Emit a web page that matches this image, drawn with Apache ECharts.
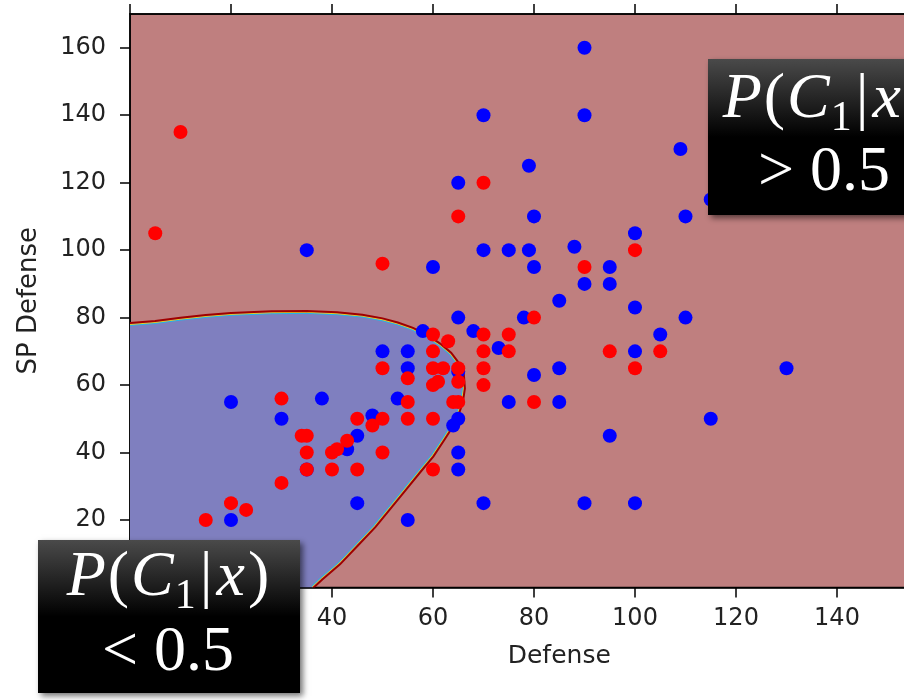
<!DOCTYPE html>
<html><head><meta charset="utf-8">
<script src="https://cdn.jsdelivr.net/npm/echarts@6/dist/echarts.min.js"></script>
<style>html,body{margin:0;padding:0;background:#fff}#c{width:904px;height:700px}</style>
</head><body><div id="c"></div>
<script>
// ---- data ----
const xTicks = [0, 20, 40, 60, 80, 100, 120, 140, 160];
const yTicks = [0, 20, 40, 60, 80, 100, 120, 140, 160];
const xName = 'Defense';
const yName = 'SP Defense';

const bluePoints = [
  [90,160],[70,140],[90,140],[109,130],[79,125],[65,120],[80,110],[110,110],[115,115],
  [100,105],[70,100],[75,100],[79,100],[80,95],[60,95],[88,101],[95,95],[90,90],[95,90],
  [85,85],[100,83],[65,80],[78,80],[110,80],[58,76],[68,76],[105,75],[73,71],[100,70],
  [85,65],[130,65],[80,63],[75,55],[85,55],[65,50],[64,48],[115,50],[95,45],[65,40],
  [65,35],[70,25],[90,25],[100,25],[50,70],[55,70],[55,65],[53,56],[38,56],[20,55],
  [30,50],[48,51],[45,45],[43,41],[35,35],[45,25],[55,20],[20,20],[35,100],[65,64]
];
const redPoints = [
  [10,135],[5,105],[70,120],[65,110],[50,96],[100,100],[90,95],[80,80],[60,75],[70,75],
  [75,75],[63,73],[75,70],[70,70],[60,70],[95,70],[105,70],[100,65],[70,65],[60,65],
  [62,65],[65,65],[50,65],[55,62],[70,60],[60,60],[61,61],[65,61],[64,55],[65,55],
  [80,55],[55,55],[30,56],[55,50],[60,50],[50,50],[45,50],[48,48],[43,43.5],[34,45],
  [35,45],[35,40],[40,40],[41,41],[50,40],[35,35],[40,35],[45,35],[60,35],[30,31],
  [20,25],[23,23],[15,20]
];
// decision boundary P(C1|x)=0.5
const boundary = [
  [0,78.2],[5,78.8],[10,79.8],[15,80.6],[20,81.2],[28,81.7],[35,81.8],[41,81.4],[46,80.7],
  [50,79.6],[53,78.4],[56,76.8],[59,74.5],[61.5,72],[63.5,69.5],[65,66.5],[66,63],[66.2,59],
  [65.8,55],[64.8,50.5],[63.5,47],[62,43.5],[60,39],[57.5,34.5],[54.5,29],[51.5,23.5],
  [48.5,18],[45,12.5],[41.5,7],[38,2.5],[36.2,0]
];

// ---- chart ----
const chart = echarts.init(document.getElementById('c'));
const AX = '#000';
const LBL = '#222';
const SANS = '"DejaVu Sans", sans-serif';

const ctx = document.createElement('canvas').getContext('2d');
const SERIF = '"Liberation Serif", serif';
function fontOf(it, size) { return (it ? 'italic ' : '') + size + 'px ' + SERIF; }
function mathLine(cx, baseline, pieces) {
  const ws = pieces.map(p => { ctx.font = fontOf(p[1], p[2]); return ctx.measureText(p[0]).width; });
  const total = ws.reduce((a, b) => a + b, 0) + pieces.reduce((a, p) => a + (p[4] || 0), 0);
  let x = cx - total / 2;
  const out = [];
  pieces.forEach((p, i) => {
    out.push({
      type: 'text', z: 101, silent: true,
      x: x, y: baseline + (p[3] || 0) - 0.3375 * p[2],
      style: { text: p[0], font: fontOf(p[1], p[2]), fill: '#fff', align: 'left', verticalAlign: 'middle' }
    });
    x += ws[i] + (p[4] || 0);
  });
  return out;
}
function box(x, y, w, h) {
  return {
    type: 'rect', z: 100, silent: true,
    shape: { x: x, y: y, width: w, height: h },
    style: {
      fill: { type: 'linear', x: 0, y: 0, x2: 0, y2: 1,
        colorStops: [{ offset: 0, color: '#4a4a4a' }, { offset: 0.5, color: '#000' }, { offset: 1, color: '#000' }] },
      shadowBlur: 6, shadowOffsetX: 3, shadowOffsetY: 3, shadowColor: 'rgba(0,0,0,0.55)'
    }
  };
}
const line1 = [['P', true, 64, 0, 2], ['(', false, 64, 0, 2], ['C', true, 64, 0, 1], ['1', false, 42, 11, 4],
               ['|', false, 64, 0, 4], ['x', true, 64, 0, 3], [')', false, 64, 0, 0]];
const line2Lt = [['<', false, 64, 0, 16], ['0.5', false, 64, 0, 0]];
const line2Gt = [['>', false, 64, 0, 16], ['0.5', false, 64, 0, 0]];

const graphics = [box(708, 59, 280, 156)]
  .concat(mathLine(824, 122, line1)).concat(mathLine(824, 195, line2Gt))
  .concat([box(38, 540, 262, 153)])
  .concat(mathLine(168, 600, line1)).concat(mathLine(168, 675, line2Lt));

// offset a pixel polyline along its normal (positive = away from centre c)
function offsetLine(pts, d, c) {
  return pts.map((p, i) => {
    const a = pts[Math.max(0, i - 1)], b = pts[Math.min(pts.length - 1, i + 1)];
    let tx = b[0] - a[0], ty = b[1] - a[1];
    const L = Math.hypot(tx, ty) || 1; tx /= L; ty /= L;
    let nx = -ty, ny = tx;
    if (nx * (p[0] - c[0]) + ny * (p[1] - c[1]) < 0) { nx = -nx; ny = -ny; }
    return [p[0] + nx * d, p[1] + ny * d];
  });
}

const option = {
  animation: false,
  backgroundColor: '#fff',
  grid: { left: 130, top: 14, width: 858.5, height: 573.5, show: true,
          containLabel: false, outerBoundsMode: 'none',
          backgroundColor: '#bf7f7f', borderColor: AX, borderWidth: 1.5 },
  xAxis: [{
    type: 'value', min: 0, max: 170, interval: 20, position: 'bottom',
    axisLine: { show: true, onZero: false, lineStyle: { color: AX, width: 1.5 } },
    axisTick: { show: true, inside: false, length: 10, customValues: xTicks, lineStyle: { color: AX, width: 1.5 } },
    axisLabel: { customValues: xTicks, color: LBL, fontSize: 24, fontFamily: SANS, margin: 19, hideOverlap: false },
    splitLine: { show: false },
    name: xName, nameLocation: 'middle', nameGap: 56,
    nameTextStyle: { color: LBL, fontSize: 25, fontFamily: SANS }
  }, {
    type: 'value', min: 0, max: 170, interval: 20, position: 'top',
    axisLine: { show: true, onZero: false, lineStyle: { color: AX, width: 1.5 } },
    axisTick: { show: true, inside: false, length: 10, customValues: xTicks, lineStyle: { color: AX, width: 1.5 } },
    axisLabel: { show: false }, splitLine: { show: false }
  }],
  yAxis: [{
    type: 'value', min: 0, max: 170, interval: 20, position: 'left',
    axisLine: { show: true, onZero: false, lineStyle: { color: AX, width: 1.5 } },
    axisTick: { show: true, inside: false, length: 10, customValues: yTicks, lineStyle: { color: AX, width: 1.5 } },
    axisLabel: { customValues: yTicks, color: LBL, fontSize: 24, fontFamily: SANS, margin: 24 },
    splitLine: { show: false },
    name: yName, nameLocation: 'middle', nameGap: 88,
    nameTextStyle: { color: LBL, fontSize: 26, fontFamily: SANS }
  }],
  series: [{
    type: 'custom', coordinateSystem: 'cartesian2d', xAxisIndex: 0, yAxisIndex: 0,
    data: [[0, 0]], silent: true, z: 1, clip: true,
    renderItem: function (params, api) {
      const pts = boundary.map(p => api.coord(p));
      const poly = pts.concat([api.coord([0, 0])]);
      const c = api.coord([20, 40]);
      return { type: 'group', children: [
        { type: 'polygon', shape: { points: poly }, style: { fill: '#7f7fbf', stroke: null } },
        { type: 'polyline', shape: { points: offsetLine(pts, -1.8, c) }, style: { stroke: '#20b8e8', lineWidth: 1, fill: null } },
        { type: 'polyline', shape: { points: offsetLine(pts, -0.8, c) }, style: { stroke: '#e8d020', lineWidth: 1, fill: null } },
        { type: 'polyline', shape: { points: offsetLine(pts, 0.6, c) }, style: { stroke: '#a00000', lineWidth: 2, fill: null } }
      ] };
    }
  }, {
    type: 'scatter', xAxisIndex: 0, yAxisIndex: 0, data: bluePoints, symbolSize: 14, z: 3,
    itemStyle: { color: '#0000ff', opacity: 1 }, silent: true
  }, {
    type: 'scatter', xAxisIndex: 0, yAxisIndex: 0, data: redPoints, symbolSize: 14, z: 4,
    itemStyle: { color: '#ff0000', opacity: 1 }, silent: true
  }],
  graphic: { elements: graphics }
};
chart.setOption(option);
</script>
</body></html>
